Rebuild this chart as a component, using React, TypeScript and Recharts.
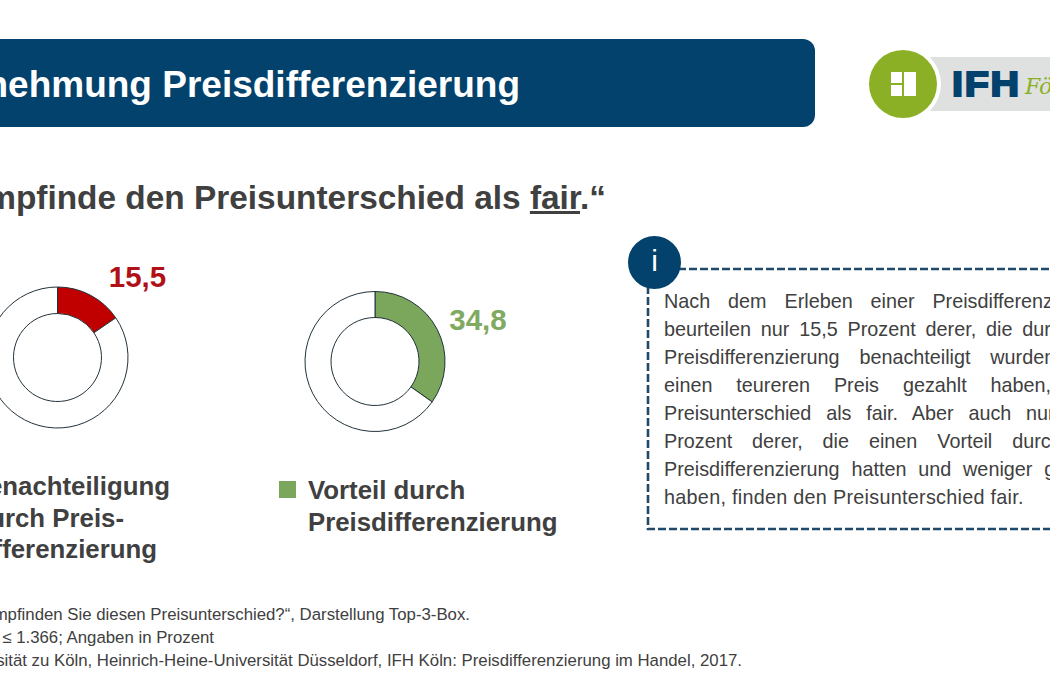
import React from "react";
import { PieChart, Pie, Cell } from "recharts";

const sliceNames = ["Top-3-Box", "Rest"];
const disadvantageValues = [15.5, 84.5];
const advantageValues = [34.8, 65.2];
const disadvantageColors = ["#C00000", "#FFFFFF"];
const advantageColors = ["#7BA75C", "#FFFFFF"];

const infoLines = [
  "Nach dem Erleben einer Preisdifferenzierung",
  "beurteilen nur 15,5 Prozent derer, die durch die",
  "Preisdifferenzierung benachteiligt wurden und",
  "einen teureren Preis gezahlt haben, den",
  "Preisunterschied als fair. Aber auch nur 34,8",
  "Prozent derer, die einen Vorteil durch die",
  "Preisdifferenzierung hatten und weniger gezahlt",
];
const infoLastLine = "haben, finden den Preisunterschied fair.";
const footnotes = [
  "„Wie empfinden Sie diesen Preisunterschied?“, Darstellung Top-3-Box.",
  "Basis: n ≤ 1.366; Angaben in Prozent",
  "Quelle: Universität zu Köln, Heinrich-Heine-Universität Düsseldorf, IFH Köln: Preisdifferenzierung im Handel, 2017.",
];
const footnoteRightEdges = [470, 214, 742];
const legendOne = ["Benachteiligung", "durch Preis-", "differenzierung"];
const legendOneRightEdges = [170, 124, 157];
const legendTwo = ["Vorteil durch", "Preisdifferenzierung"];

const toRows = (values: number[]) => values.map((value, i) => ({ name: sliceNames[i], value }));
const de = (v: number) => String(v).replace(".", ",");
const FONT = "'Liberation Sans', Arial, sans-serif";
const DARK = "#404040";
const NAVY = "#03426C";

const abs = (s: React.CSSProperties): React.CSSProperties => ({ position: "absolute", whiteSpace: "nowrap", ...s });

const makeLabel = (x: number, y: number, color: string) => (p: any) =>
  p.index === 0 ? (
    <text x={x} y={y} textAnchor="middle" fontFamily={FONT} fontWeight={700} fontSize={29.5} fill={color}>
      {de(p.value)}
    </text>
  ) : null;

export default function App() {
  return (
    <div style={{ position: "absolute", left: 0, top: 0, width: 1050, height: 700, overflow: "hidden", background: "#fff", fontFamily: FONT, color: DARK }}>
      {/* Header */}
      <div style={{ position: "absolute", left: -30, top: 39, width: 845, height: 88, background: NAVY, borderRadius: 12 }} />
      <div style={abs({ right: 1050 - 520, top: 63, fontSize: 37, lineHeight: "44px", fontWeight: 700, color: "#fff" })}>Wahrnehmung Preisdifferenzierung</div>

      {/* Logo */}
      <div style={{ position: "absolute", left: 925, top: 57, width: 140, height: 54, background: "#DFE1E1" }} />
      <div style={{ position: "absolute", left: 865, top: 46, width: 76, height: 76, borderRadius: "50%", background: "#fff" }} />
      <div style={{ position: "absolute", left: 869, top: 50, width: 68, height: 68, borderRadius: "50%", background: "#8BB026" }} />
      <div style={{ position: "absolute", left: 891, top: 72, width: 11, height: 11, background: "#fff" }} />
      <div style={{ position: "absolute", left: 891, top: 85, width: 11, height: 11, background: "#fff" }} />
      <div style={{ position: "absolute", left: 904, top: 72, width: 12, height: 24, background: "#fff" }} />
      <div style={abs({ left: 952, top: 64, fontSize: 35, lineHeight: "40px", fontWeight: 700, color: NAVY, WebkitTextStroke: "2px " + NAVY, letterSpacing: 1.5, transform: "scaleX(1.13)", transformOrigin: "left" })}>IFH</div>
      <div style={abs({ left: 1025, top: 73, fontSize: 22, lineHeight: "28px", fontStyle: "italic", fontFamily: "'DejaVu Serif', serif", color: "#8BB026" })}>Fö</div>

      {/* Question */}
      <div style={abs({ right: 1050 - 606, top: 178, fontSize: 33.4, lineHeight: "40px", fontWeight: 700 })}>
        „Ich empfinde den Preisunterschied als <span style={{ textDecoration: "underline" }}>fair</span>.“
      </div>

      {/* Donuts */}
      <div style={{ position: "absolute", left: 0, top: 0 }}>
        <PieChart width={1050} height={700} margin={{ top: 0, right: 0, bottom: 0, left: 0 }}>
          <Pie
            data={toRows(disadvantageValues)}
            dataKey="value"
            nameKey="name"
            cx={57.5}
            cy={357.5}
            innerRadius={44}
            outerRadius={70.5}
            startAngle={90}
            endAngle={-270}
            stroke="#22323c"
            strokeWidth={1}
            isAnimationActive={false}
            labelLine={false}
            label={makeLabel(137.5, 287, "#B01116")}
          >
            {disadvantageColors.map((c, i) => <Cell key={i} fill={c} />)}
          </Pie>
          <Pie
            data={toRows(advantageValues)}
            dataKey="value"
            nameKey="name"
            cx={375}
            cy={361.5}
            innerRadius={44}
            outerRadius={70}
            startAngle={90}
            endAngle={-270}
            stroke="#22323c"
            strokeWidth={1}
            isAnimationActive={false}
            labelLine={false}
            label={makeLabel(478, 330, "#7FAA60")}
          >
            {advantageColors.map((c, i) => <Cell key={i} fill={c} />)}
          </Pie>
        </PieChart>
      </div>

      {/* Legends */}
      {legendOne.map((t, i) => (
        <div key={t} style={abs({ right: 1050 - legendOneRightEdges[i], top: 470 + i * 31.5, fontSize: 25.8, lineHeight: "32px", fontWeight: 700 })}>{t}</div>
      ))}
      <div style={{ position: "absolute", left: 279, top: 481, width: 17, height: 17, background: "#7BA75C" }} />
      {legendTwo.map((t, i) => (
        <div key={t} style={abs({ left: 308, top: 474 + i * 31.5, fontSize: 25.8, lineHeight: "32px", fontWeight: 700 })}>{t}</div>
      ))}

      {/* Info box */}
      <svg style={{ position: "absolute", left: 0, top: 0 }} width={1050} height={700}>
        <path d="M1060 269 H648 V529 H1060" fill="none" stroke="#1F4A6B" strokeWidth={2.6} strokeDasharray="8 3" />
      </svg>
      <div style={{ position: "absolute", left: 628, top: 236, width: 53, height: 53, borderRadius: "50%", background: NAVY }} />
      <div style={{ position: "absolute", left: 628, top: 243, width: 53, textAlign: "center", fontSize: 30, lineHeight: "36px", color: "#fff" }}>i</div>
      {infoLines.map((t, i) => (
        <div key={i} style={{ position: "absolute", left: 664, top: 287 + i * 28, width: 444, fontSize: 19.8, lineHeight: "28px", textAlign: "justify", textAlignLast: "justify" }}>{t}</div>
      ))}
      <div style={abs({ left: 664, top: 483, fontSize: 19.8, lineHeight: "28px", letterSpacing: 0.28 })}>{infoLastLine}</div>

      {/* Footnotes */}
      {footnotes.map((t, i) => (
        <div key={i} style={abs({ right: 1050 - footnoteRightEdges[i], top: 605 + i * 23, fontSize: 16.8, lineHeight: "20px" })}>{t}</div>
      ))}
    </div>
  );
}
